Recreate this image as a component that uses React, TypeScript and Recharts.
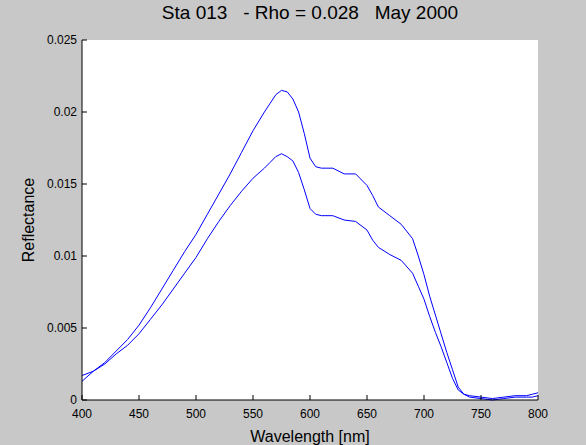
import React from "react";
import {
  CartesianGrid,
  Line,
  LineChart,
  XAxis,
  YAxis,
} from "recharts";

// wavelength grid (nm)
const wavelengths = [
  400, 410, 420, 430, 440, 450, 460, 470, 480, 490, 500, 510, 520, 530, 540,
  550, 560, 565, 570, 575, 580, 585, 590, 595, 600, 605, 610, 620, 630, 640,
  650, 655, 660, 670, 680, 690, 695, 700, 705, 710, 715, 720, 725, 730, 735,
  740, 750, 760, 770, 780, 790, 795, 800,
];

// upper curve
const upperSpectrum = [
  0.0013, 0.002, 0.0026, 0.0034, 0.0042, 0.0052, 0.0064, 0.0077, 0.009,
  0.0103, 0.0115, 0.0129, 0.0143, 0.0157, 0.0172, 0.0187, 0.02, 0.0206,
  0.0212, 0.0215, 0.0214, 0.0209, 0.02, 0.0185, 0.0168, 0.0162, 0.0161,
  0.0161, 0.0157, 0.0157, 0.0149, 0.0142, 0.0134, 0.0128, 0.0122, 0.0112,
  0.01, 0.0087, 0.0072, 0.0059, 0.0046, 0.0033, 0.0021, 0.0009, 0.0004,
  0.0003, 0.0002, 0.0001, 0.0002, 0.0003, 0.0003, 0.0004, 0.0005,
];

// lower curve
const lowerSpectrum = [
  0.0017, 0.002, 0.0025, 0.0032, 0.0038, 0.0046, 0.0056, 0.0066, 0.0077,
  0.0088, 0.0099, 0.0112, 0.0124, 0.0135, 0.0145, 0.0154, 0.0161, 0.0165,
  0.0169, 0.0171, 0.0169, 0.0166, 0.0158, 0.0146, 0.0133, 0.0129, 0.0128,
  0.0128, 0.0125, 0.0124, 0.0118, 0.0111, 0.0106, 0.0101, 0.0097, 0.0088,
  0.0079, 0.007, 0.0058, 0.0047, 0.0037, 0.0026, 0.0015, 0.0007, 0.0004,
  0.0002, 0.0001, 0.0, 0.0001, 0.0002, 0.0002, 0.0002, 0.0003,
];

const xTicks = [400, 450, 500, 550, 600, 650, 700, 750, 800];
const yTicks = [0, 0.005, 0.01, 0.015, 0.02, 0.025];
const yTickLabels = ["0", "0.005", "0.01", "0.015", "0.02", "0.025"];

const title = "Sta 013   - Rho = 0.028   May 2000";

const data = wavelengths.map((wl, i) => ({
  wl,
  upper: upperSpectrum[i],
  lower: lowerSpectrum[i],
}));

const W = 586;
const H = 445;
const FONT = "'Liberation Sans', Arial, Helvetica, sans-serif";
const TICK_LEN = 5;

const BottomTick = (props: any) => {
  const { x, y, payload } = props;
  return (
    <g>
      <line x1={x} y1={y} x2={x} y2={y - TICK_LEN} stroke="#000" />
      <text x={x} y={y + 17.5} textAnchor="middle" fontSize={12} fill="#000" fontFamily={FONT}>
        {payload.value}
      </text>
    </g>
  );
};

const TopTick = (props: any) => {
  const { x, y } = props;
  return <line x1={x} y1={y} x2={x} y2={y + TICK_LEN} stroke="#000" />;
};

const LeftTick = (props: any) => {
  const { x, y, payload } = props;
  const idx = yTicks.indexOf(payload.value);
  return (
    <g>
      <line x1={x} y1={y} x2={x + TICK_LEN} y2={y} stroke="#000" />
      <text x={x - 5} y={y + 4} textAnchor="end" fontSize={12} fill="#000" fontFamily={FONT}>
        {idx >= 0 ? yTickLabels[idx] : payload.value}
      </text>
    </g>
  );
};

const RightTick = (props: any) => {
  const { x, y } = props;
  return <line x1={x} y1={y} x2={x - TICK_LEN} y2={y} stroke="#000" />;
};

export default function App() {
  return (
    <div style={{ position: "relative", width: W, height: H, background: "#c8c8c8" }}>
      <style>{"body{margin:0}"}</style>
      <LineChart
        width={W}
        height={H}
        data={data}
        margin={{ top: 40, right: 48, bottom: 0, left: 0 }}
      >
        <CartesianGrid horizontal={false} vertical={false} fill="#ffffff" />
        <XAxis
          xAxisId="bottom"
          dataKey="wl"
          type="number"
          domain={[400, 800]}
          ticks={xTicks}
          interval={0}
          height={45}
          tickSize={0}
          tickMargin={0}
          tickLine={false}
          axisLine={{ stroke: "#000" }}
          tick={BottomTick}
        />
        <XAxis
          xAxisId="top"
          orientation="top"
          dataKey="wl"
          type="number"
          domain={[400, 800]}
          ticks={xTicks}
          interval={0}
          height={0}
          tickSize={0}
          tickMargin={0}
          tickLine={false}
          axisLine={{ stroke: "#000" }}
          tick={TopTick}
        />
        <YAxis
          yAxisId="left"
          type="number"
          domain={[0, 0.025]}
          ticks={yTicks}
          interval={0}
          width={82}
          tickSize={0}
          tickMargin={0}
          tickLine={false}
          axisLine={{ stroke: "#000" }}
          tick={LeftTick}
        />
        <YAxis
          yAxisId="right"
          orientation="right"
          type="number"
          domain={[0, 0.025]}
          ticks={yTicks}
          interval={0}
          width={0}
          tickSize={0}
          tickMargin={0}
          tickLine={false}
          axisLine={{ stroke: "#000" }}
          tick={RightTick}
        />
        <Line
          xAxisId="bottom"
          yAxisId="left"
          dataKey="upper"
          stroke="#0000ff"
          strokeWidth={1}
          dot={false}
          type="linear"
          isAnimationActive={false}
        />
        <Line
          xAxisId="bottom"
          yAxisId="left"
          dataKey="lower"
          stroke="#0000ff"
          strokeWidth={1}
          dot={false}
          type="linear"
          isAnimationActive={false}
        />
      </LineChart>
      <svg
        width={W}
        height={H}
        style={{ position: "absolute", left: 0, top: 0, pointerEvents: "none" }}
      >
        <text x={310} y={19} textAnchor="middle" fontSize={19} fontFamily={FONT} fill="#000" style={{ whiteSpace: "pre" }}>
          {title}
        </text>
        <text
          x={33.5}
          y={220}
          textAnchor="middle"
          fontSize={16}
          fontFamily={FONT}
          fill="#000"
          transform="rotate(-90 33.5 220)"
        >
          Reflectance
        </text>
        <text x={310} y={442} textAnchor="middle" fontSize={16} fontFamily={FONT} fill="#000">
          Wavelength [nm]
        </text>
      </svg>
    </div>
  );
}
